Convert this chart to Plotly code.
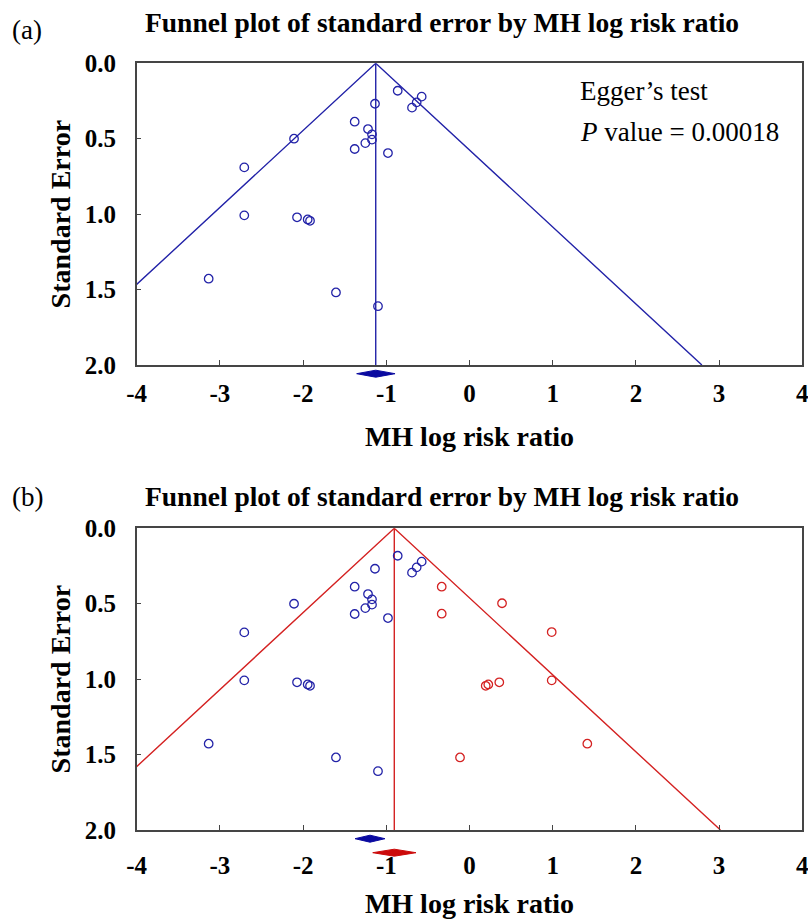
import plotly.graph_objects as go

# ---------------- data ----------------
x_tick_vals = [-4, -3, -2, -1, 0, 1, 2, 3, 4]
x_tick_text = ["-4", "-3", "-2", "-1", "0", "1", "2", "3", "4"]
y_tick_vals = [0.0, 0.5, 1.0, 1.5, 2.0]
y_tick_text = ["0.0", "0.5", "1.0", "1.5", "2.0"]

# observed studies (log risk ratio, standard error)
obs_logrr = [-0.863, -0.575, -0.635, -0.691, -1.136, -1.380, -1.220, -1.172, -1.172,
             -1.252, -1.380, -0.980, -2.109, -2.707, -2.707, -2.073, -1.945, -1.917,
             -3.135, -1.605, -1.100]
obs_se = [0.182, 0.221, 0.259, 0.294, 0.268, 0.387, 0.436, 0.471, 0.506,
          0.529, 0.568, 0.595, 0.500, 0.690, 1.008, 1.021, 1.035, 1.044,
          1.428, 1.519, 1.610]

# imputed studies (trim and fill)
imp_logrr = [-0.334, -0.334, -0.114, 0.391, 0.988, 0.988, 0.358, 0.226, 0.195, 1.416]
imp_se = [0.387, 0.566, 1.519, 0.497, 0.688, 1.008, 1.021, 1.035, 1.044, 1.428]

# pooled estimates: [lower, estimate, upper]
pooled_a = [-1.356, -1.127, -0.895]
pooled_b_obs = [-1.376, -1.196, -1.016]
pooled_b_adj = [-1.163, -0.904, -0.643]

z_value = 1.96
se_max = 2.0

egger_line1 = "Egger’s test"
egger_line2 = "<i>P</i> value = 0.00018"
panel_title = "<b>Funnel plot of standard error by MH log risk ratio</b>"
x_title = "<b>MH log risk ratio</b>"
y_title = "<b>Standard Error</b>"

# ---------------- style ----------------
W, H = 808, 919
FONT = "Liberation Serif"
BLUE = "#2323a8"
BLUE_D = "#0a0aa0"
RED = "#d42222"
RED_D = "#cc0a0a"
FRAME = "#454545"


def fx(p):
    return p / W


def fy(p):
    return 1 - p / H


fig = go.Figure()


def funnel(est, color, xa, ya):
    fig.add_trace(go.Scatter(
        x=[est - z_value * se_max, est, est + z_value * se_max],
        y=[se_max, 0, se_max], mode="lines",
        line=dict(color=color, width=1.4), xaxis=xa, yaxis=ya,
        showlegend=False, hoverinfo="skip"))
    fig.add_trace(go.Scatter(
        x=[est, est], y=[0, se_max], mode="lines",
        line=dict(color=color, width=1.4), xaxis=xa, yaxis=ya,
        showlegend=False, hoverinfo="skip"))


def points(xs, ys, color, xa, ya):
    fig.add_trace(go.Scatter(
        x=xs, y=ys, mode="markers",
        marker=dict(symbol="circle-open", size=8.5, color=color, line=dict(width=1.3)),
        xaxis=xa, yaxis=ya, showlegend=False))


def diamond(ci, row, color, xa, ya, half=0.25):
    lo, est, hi = ci
    fig.add_trace(go.Scatter(
        x=[lo, est, hi, est, lo], y=[row, row - half, row, row + half, row],
        mode="lines", fill="toself", fillcolor=color,
        line=dict(color=color, width=1), xaxis=xa, yaxis=ya,
        showlegend=False, hoverinfo="skip"))


# panel (a)
funnel(pooled_a[1], BLUE, "x", "y")
points(obs_logrr, obs_se, BLUE, "x", "y")
diamond(pooled_a, 0, BLUE_D, "x", "y3")

# panel (b)
funnel(pooled_b_adj[1], RED, "x2", "y2")
points(obs_logrr, obs_se, BLUE, "x2", "y2")
points(imp_logrr, imp_se, RED, "x2", "y2")
diamond(pooled_b_obs, 0, BLUE_D, "x2", "y4")
diamond(pooled_b_adj, 1, RED_D, "x2", "y4")

xdom = [fx(136.7), fx(802.3)]
ydom_a = [fy(365), fy(63.3)]
ydom_b = [fy(830), fy(528.3)]

tickfont = dict(family=FONT, size=25, color="black", weight="bold")


def xaxis(anchor, standoff_lbl, standoff_title):
    return dict(domain=xdom, range=[-4, 4], anchor=anchor, tickvals=x_tick_vals,
                ticktext=x_tick_text, ticklabeloverflow="allow",
                ticks="inside", ticklen=5, tickwidth=1.3, tickcolor=FRAME,
                showline=True, linecolor=FRAME, linewidth=1.5, mirror=True,
                showgrid=False, zeroline=False, tickfont=tickfont,
                ticklabelstandoff=standoff_lbl, automargin=False,
                title=dict(text=x_title, font=dict(family=FONT, size=28, color="black"),
                           standoff=standoff_title))


def yaxis(anchor, dom):
    return dict(domain=dom, range=[2, 0], anchor=anchor, tickvals=y_tick_vals,
                ticktext=y_tick_text, ticklabeloverflow="allow",
                ticks="inside", ticklen=5, tickwidth=1.3,
                tickcolor=FRAME, showline=True, linecolor=FRAME, linewidth=1.5,
                mirror=True, showgrid=False, zeroline=False, tickfont=tickfont,
                ticklabelstandoff=14, automargin=False,
                title=dict(text=y_title, font=dict(family=FONT, size=28, color="black"),
                           standoff=6))


def strip(anchor, top_px):
    return dict(domain=[fy(top_px + 28), fy(top_px)], range=[1.45, -0.55],
                anchor=anchor, visible=False, fixedrange=True, automargin=False)


annotations = [
    dict(text="(a)", x=fx(10), y=fy(30), xanchor="left", yanchor="middle"),
    dict(text=panel_title, x=fx(442), y=fy(23), xanchor="center", yanchor="middle"),
    dict(text="(b)", x=fx(10), y=fy(497), xanchor="left", yanchor="middle"),
    dict(text=panel_title, x=fx(442), y=fy(497), xanchor="center", yanchor="middle"),
    dict(text=egger_line1, x=fx(578), y=fy(91), xanchor="left", yanchor="middle"),
    dict(text=egger_line2, x=fx(578), y=fy(132), xanchor="left", yanchor="middle"),
]
for i, a in enumerate(annotations):
    size = 27.5 if i in (1, 3) else 27
    a.update(xref="paper", yref="paper", showarrow=False,
             font=dict(family=FONT, size=size, color="black"))

fig.update_layout(
    width=W, height=H, margin=dict(l=0, r=0, t=0, b=0, autoexpand=False),
    paper_bgcolor="white", plot_bgcolor="white",
    xaxis=xaxis("y", 5, 21),
    yaxis=yaxis("x", ydom_a),
    xaxis2=xaxis("y2", 12, 23),
    yaxis2=yaxis("x2", ydom_b),
    yaxis3=strip("x", 366),
    yaxis4=strip("x2", 831),
    annotations=annotations,
    showlegend=False,
)

# remove the browser's default page margin so the figure fills the window exactly
fig.write_html("out.html",
               config={"displayModeBar": False},
               post_script="document.body.style.margin='0';"
                           "document.documentElement.style.overflow='hidden';")
